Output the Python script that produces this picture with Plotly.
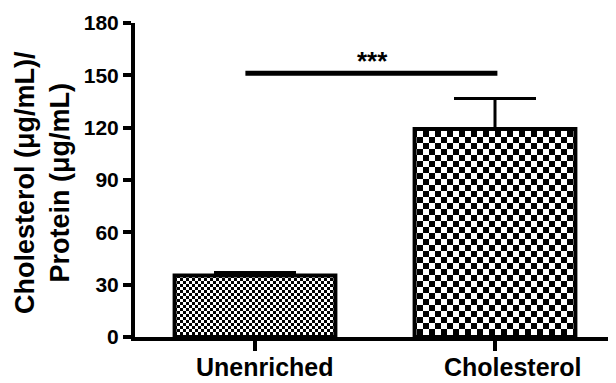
import plotly.graph_objects as go

categories = ["Unenriched", "Cholesterol"]
means = [35.2, 119.2]
errors_up = [1.8, 17.5]
y_ticks = [0, 30, 60, 90, 120, 150, 180]
y_title = "Cholesterol (μg/mL)/<br>Protein (μg/mL)"
sig_label = "***"
sig_x = [-0.04, 1.01]
sig_y = 151.2
checker_sizes = [3, 6]
label_shifts = [10, 18]

FONT = "Arial, Liberation Sans, Helvetica, sans-serif"


def has_path():
    try:
        go.bar.marker.Pattern(path="M0,0H1V1H0Z")
        return True
    except Exception:
        return False


def pattern_for(s):
    if has_path():
        p = 2 * s
        d = f"M0,0H{s}V{s}H0Z M{s},{s}H{p}V{p}H{s}Z"
        return dict(path=d, size=p, fgcolor="black", bgcolor="white",
                    fillmode="replace", fgopacity=1)
    return dict(shape=".", size=s * 1.45, solidity=0.5, fgcolor="black",
                bgcolor="white", fillmode="replace")


fig = go.Figure()
for i, cat in enumerate(categories):
    fig.add_trace(go.Bar(
        x=[cat], y=[means[i]],
        width=0.67,
        marker=dict(color="white", line=dict(color="black", width=4),
                    pattern=pattern_for(checker_sizes[i])),
        error_y=dict(type="data", symmetric=False, array=[errors_up[i]],
                     arrayminus=[0], color="black", thickness=3, width=41),
        showlegend=False,
    ))
    # category label (offset slightly right, as in the original)
    fig.add_annotation(x=cat, y=0, xref="x", yref="paper", text=cat,
                       showarrow=False, xanchor="center", yanchor="top",
                       xshift=label_shifts[i], yshift=-14,
                       font=dict(family=FONT, size=25, color="black",
                                 weight="bold"))

fig.add_shape(type="line", xref="x", yref="y",
              x0=sig_x[0], x1=sig_x[1], y0=sig_y, y1=sig_y,
              line=dict(color="black", width=5))
fig.add_annotation(x=0.49, y=sig_y - 2.7, xref="x", yref="y", text=sig_label,
                   showarrow=False, yanchor="bottom",
                   font=dict(family=FONT, size=26, color="black", weight="bold"))

# y-axis title as rotated annotation
fig.add_annotation(x=0, y=0.5, xref="paper", yref="paper", text=y_title,
                   showarrow=False, textangle=-90, xanchor="center",
                   yanchor="middle", xshift=-93, yshift=-3,
                   font=dict(family=FONT, size=27, color="black", weight="bold"))

fig.update_layout(
    width=608, height=375,
    margin=dict(l=127, r=1, t=14.5, b=45.5, autoexpand=False),
    plot_bgcolor="white", paper_bgcolor="white",
    bargap=0.3,
    font=dict(family=FONT, color="black"),
)
fig.update_xaxes(
    type="category", categoryorder="array", categoryarray=categories,
    range=[-0.5, 1.5], showline=True, linewidth=4, linecolor="black",
    ticks="outside", ticklen=10, tickwidth=4, tickcolor="black",
    showgrid=False, zeroline=False, automargin=False, showticklabels=False,
)
fig.update_yaxes(
    range=[0, 180], tickvals=y_ticks, showline=True, linewidth=4,
    linecolor="black", ticks="outside", ticklen=8, tickwidth=4,
    tickcolor="black", showgrid=False, zeroline=False, automargin=False,
    tickfont=dict(family=FONT, size=21, color="black", weight="bold"),
)

fig.write_html("out.html")
